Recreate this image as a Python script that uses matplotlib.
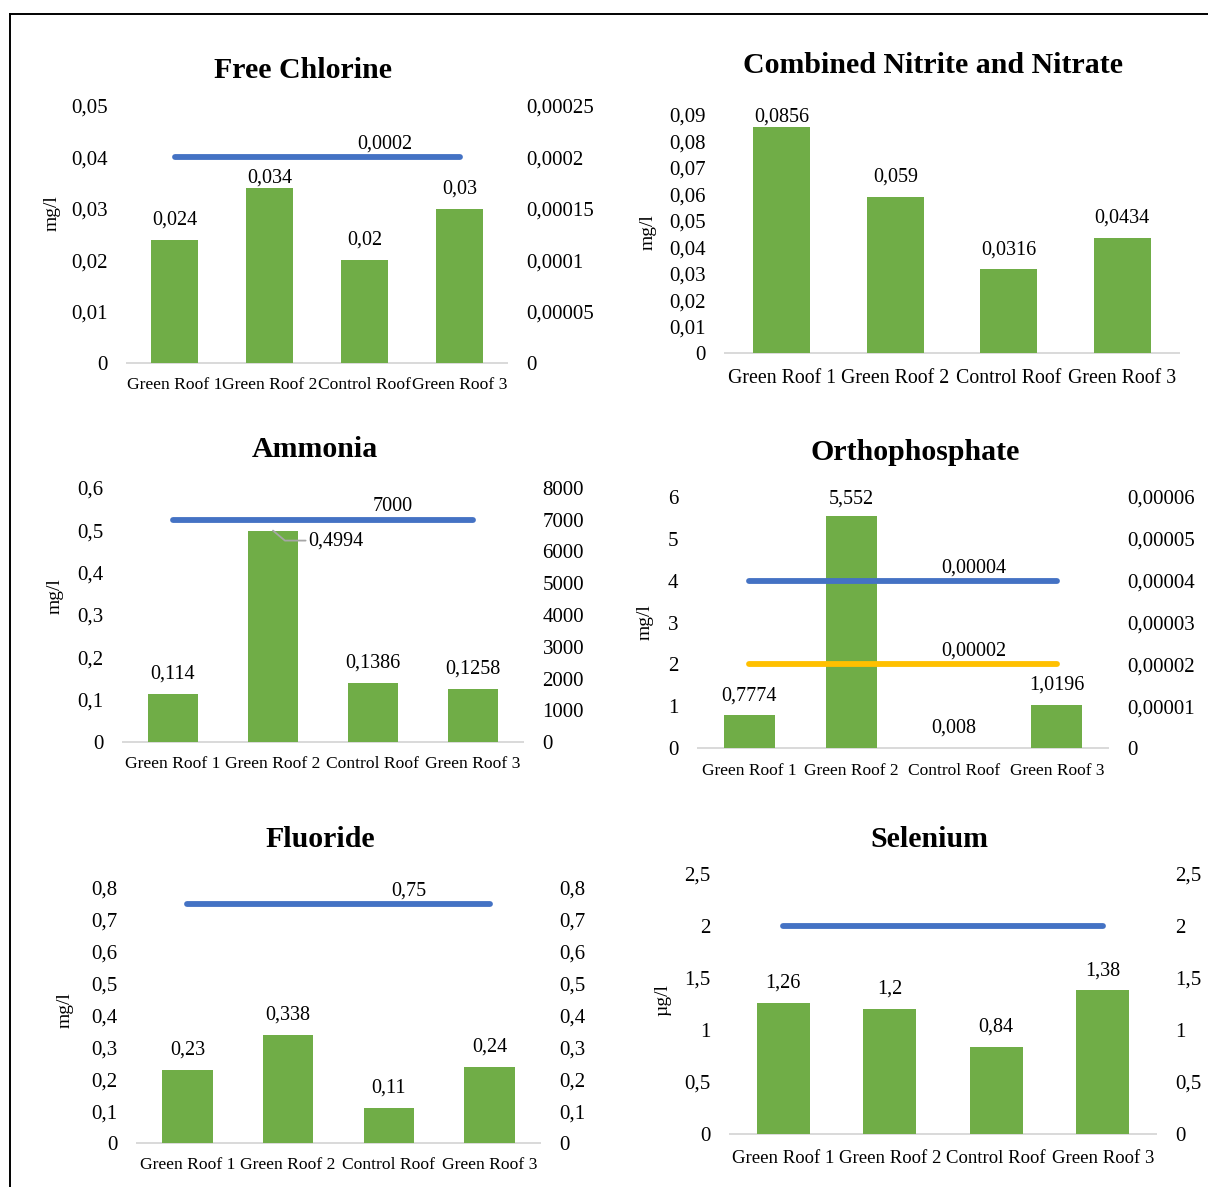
import matplotlib
matplotlib.use("Agg")
import numpy as np
import matplotlib.pyplot as plt
from matplotlib.lines import Line2D

plt.rcParams["font.family"] = ["Liberation Serif", "DejaVu Serif"]

# ---------------------------------------------------------------- data
categories = ["Green Roof 1", "Green Roof 2", "Control Roof", "Green Roof 3"]

chlorine = [0.024, 0.034, 0.02, 0.03]
chlorine_limit = 0.0002
chlorine_ticks = [0, 0.01, 0.02, 0.03, 0.04, 0.05]
chlorine_ticks_right = [0, 0.00005, 0.0001, 0.00015, 0.0002, 0.00025]

nitrate = [0.0856, 0.059, 0.0316, 0.0434]
nitrate_ticks = [0, 0.01, 0.02, 0.03, 0.04, 0.05, 0.06, 0.07, 0.08, 0.09]

ammonia = [0.114, 0.4994, 0.1386, 0.1258]
ammonia_limit = 7000
ammonia_ticks = [0, 0.1, 0.2, 0.3, 0.4, 0.5, 0.6]
ammonia_ticks_right = [0, 1000, 2000, 3000, 4000, 5000, 6000, 7000, 8000]

phosphate = [0.7774, 5.552, 0.008, 1.0196]
phosphate_limit_upper = 0.00004
phosphate_limit_lower = 0.00002
phosphate_ticks = [0, 1, 2, 3, 4, 5, 6]
phosphate_ticks_right = [0, 0.00001, 0.00002, 0.00003, 0.00004, 0.00005, 0.00006]

fluoride = [0.23, 0.338, 0.11, 0.24]
fluoride_limit = 0.75
fluoride_ticks = [0, 0.1, 0.2, 0.3, 0.4, 0.5, 0.6, 0.7, 0.8]

selenium = [1.26, 1.2, 0.84, 1.38]
selenium_limit = 2
selenium_ticks = [0, 0.5, 1, 1.5, 2, 2.5]

# ---------------------------------------------------------------- style
GREEN = "#70AD47"
BLUE = "#4472C4"
YELLOW = "#FFC000"
AXIS_GRAY = "#D9D9D9"
LEADER_GRAY = "#A6A6A6"

W, H, DPI = 1208, 1187, 100
PX = 72.0 / DPI          # points per pixel
TICK_SIZE = 15
LABEL_SIZE = 14.5
TITLE_SIZE = 21.5

fig = plt.figure(figsize=(W / DPI, H / DPI), dpi=DPI)
fig.patch.set_facecolor("white")


def fmt(v):
    """Decimal-comma number text."""
    return np.format_float_positional(v, trim="-").replace(".", ",")


def half_cap(size_pt):
    """Half the cap height of the serif face, in pixels."""
    return 0.33 * size_pt / PX


def fig_text(x, y, s, size, **kw):
    """Text whose visual centre sits at pixel (x, y) from the top-left."""
    base = y + half_cap(size)
    fig.text(x / W, 1 - base / H, s, size=size, ha="center", va="baseline", **kw)


def panel(box, title, title_xy, unit, unit_xy, values, ticks, right_ticks=None,
          limits=(), cat_size=12.6, cat_pad=10, skip_labels=(), label_gaps=None):
    x0, y0, x1, y1 = box
    ax = fig.add_axes([x0 / W, 1 - y1 / H, (x1 - x0) / W, (y1 - y0) / H])
    xs = np.arange(len(categories))
    ax.bar(xs, values, width=0.5, color=GREEN, zorder=2)
    ax.set_xlim(-0.5, len(categories) - 0.5)
    ax.set_ylim(ticks[0], ticks[-1])
    ax.set_yticks(ticks, [fmt(t) for t in ticks])
    ax.set_xticks(xs, categories)
    ax.tick_params(axis="y", length=0, pad=14, labelsize=TICK_SIZE)
    ax.tick_params(axis="x", length=0, pad=cat_pad, labelsize=cat_size)
    for side in ("left", "right", "top"):
        ax.spines[side].set_visible(False)
    ax.spines["bottom"].set_color(AXIS_GRAY)
    ax.spines["bottom"].set_linewidth(1.4)
    ax.spines["bottom"].set_zorder(1)

    # value labels above the bars; a label never rises above the plot top
    gaps = label_gaps or {}
    h_px = y1 - y0
    dpp = (ticks[-1] - ticks[0]) / h_px
    hc = half_cap(LABEL_SIZE)
    for i, v in enumerate(values):
        if i in skip_labels:
            continue
        gap = gaps.get(i, 22)
        base = min(v + (gap - hc) * dpp, ticks[-1] - hc * dpp)
        ax.text(i, base, fmt(v), ha="center", va="baseline",
                size=LABEL_SIZE, clip_on=False)

    ax2 = None
    if right_ticks is not None:
        ax2 = ax.twinx()
        ax2.set_ylim(right_ticks[0], right_ticks[-1])
        ax2.set_yticks(right_ticks, [fmt(t) for t in right_ticks])
        ax2.tick_params(axis="y", length=0, pad=14, labelsize=TICK_SIZE)
        for s in ax2.spines.values():
            s.set_visible(False)
        rdpp = (right_ticks[-1] - right_ticks[0]) / h_px
        step_px = (x1 - x0) / len(categories)
        for level, color, show in limits:
            ax2.plot(xs, [level] * len(xs), color=color, lw=4.2,
                     solid_capstyle="round", zorder=3)
            if show:
                ax2.text(2 + 20 / step_px, level + (15 - hc) * rdpp, fmt(level),
                         ha="center", va="baseline", size=LABEL_SIZE)

    fig_text(*title_xy, title, TITLE_SIZE, weight="bold")
    fig.text(unit_xy[0] / W, 1 - unit_xy[1] / H, unit, size=14, rotation=90,
             ha="center", va="center")
    return ax, ax2


# Free Chlorine (the Green Roof 2 label sits closer, just under the limit line)
panel((127, 106, 507, 363), "Free Chlorine", (303, 68), "mg/l", (52, 213),
      chlorine, chlorine_ticks, chlorine_ticks_right,
      limits=[(chlorine_limit, BLUE, True)], cat_size=12.6, cat_pad=10,
      label_gaps={1: 12})

# Combined Nitrite and Nitrate
panel((725, 115, 1179, 353), "Combined Nitrite and Nitrate", (933, 63), "mg/l",
      (648, 232), nitrate, nitrate_ticks, cat_size=14.3, cat_pad=11.4)

# Ammonia (Green Roof 2 label sits beside the bar with a leader line)
ax_nh3, _ = panel((123, 488, 523, 742), "Ammonia", (315, 447), "mg/l", (55, 596),
                  ammonia, ammonia_ticks, ammonia_ticks_right,
                  limits=[(ammonia_limit, BLUE, True)], cat_size=12.6,
                  cat_pad=10, skip_labels=(1,))
ax_nh3.annotate(fmt(ammonia[1]), xy=(1, ammonia[1]), xycoords="data",
                xytext=(63 * PX, -10 * PX), textcoords="offset points",
                ha="center", va="center", size=LABEL_SIZE,
                arrowprops=dict(arrowstyle="-", color=LEADER_GRAY, lw=1.3,
                                connectionstyle="angle,angleA=0,angleB=-40,rad=0",
                                shrinkA=0, shrinkB=0))

# Orthophosphate
panel((698, 497, 1108, 748), "Orthophosphate", (915, 450), "mg/l", (645, 622),
      phosphate, phosphate_ticks, phosphate_ticks_right,
      limits=[(phosphate_limit_upper, BLUE, True),
              (phosphate_limit_lower, YELLOW, True)],
      cat_size=12.5, cat_pad=10.5)

# Fluoride
panel((137, 888, 540, 1143), "Fluoride", (320, 837), "mg/l", (65, 1010),
      fluoride, fluoride_ticks, fluoride_ticks,
      limits=[(fluoride_limit, BLUE, True)], cat_size=12.6, cat_pad=10)

# Selenium
panel((730, 874, 1156, 1134), "Selenium", (929, 837), "\u00b5g/l", (663, 1000),
      selenium, selenium_ticks, selenium_ticks,
      limits=[(selenium_limit, BLUE, False)], cat_size=13.5, cat_pad=11.5)

# outer frame (top and left edges)
fig.add_artist(Line2D([10 / W, 1], [1 - 13.5 / H] * 2, transform=fig.transFigure,
                      color="black", lw=1.4))
fig.add_artist(Line2D([10 / W] * 2, [1 - 13.5 / H, 0], transform=fig.transFigure,
                      color="black", lw=1.4))

fig.savefig("out.png", dpi=DPI, facecolor="white")
